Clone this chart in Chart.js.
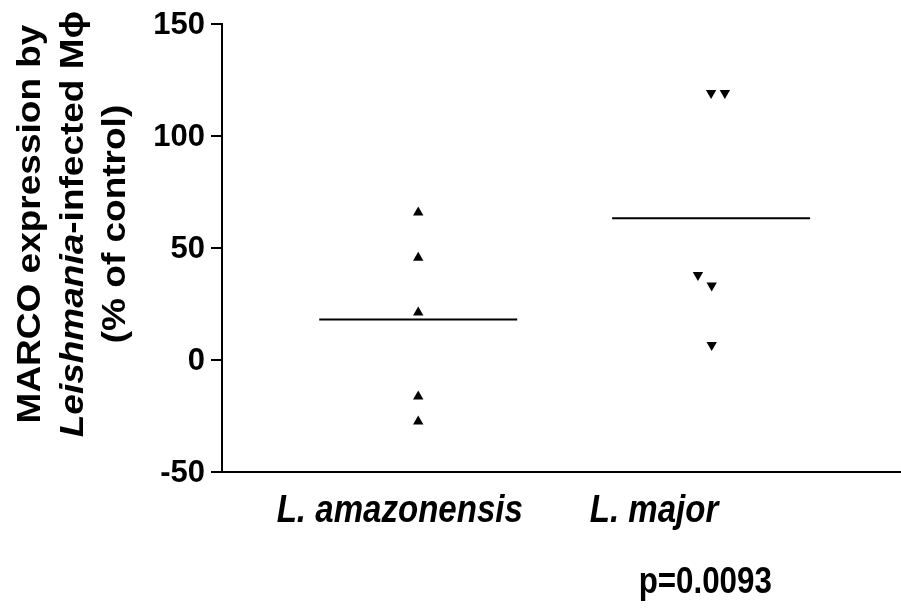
<!DOCTYPE html>
<html>
<head>
<meta charset="utf-8">
<script src="https://cdn.jsdelivr.net/npm/chart.js"></script>
<style>
  html, body { margin: 0; padding: 0; background: #fff; }
  #wrap { width: 901px; height: 608px; position: relative; }
</style>
</head>
<body>
<div id="wrap"><canvas id="chart"></canvas></div>
<script>
// Groups on the x axis (1 and 2), with the label positions under them
const groups = ['L. amazonensis', 'L. major'];
const groupLabelPos = [0.937, 1.805];

// L. amazonensis (upward triangles)
const amazX = [1, 1, 1, 1, 1];
const amazY = [65.8, 45.6, 21.2, -16.3, -27.5];

// L. major (downward triangles)
const majorX = [2, 2.047, 1.955, 2.002, 2.002];
const majorY = [119.2, 119.2, 37.9, 33.3, 6.7];

// group means (horizontal bars) and their half width
const groupMeans = [18.1, 63.3];
const meanHalfWidth = 0.338;

const yTicks = [150, 100, 50, 0, -50];
const pValue = 'p=0.0093';
const pValuePos = 1.98;

const FONT = '"Liberation Sans", Arial, Helvetica, sans-serif';

function meanLine(i) {
  const c = i + 1;
  return [{ x: c - meanHalfWidth, y: groupMeans[i] }, { x: c + meanHalfWidth, y: groupMeans[i] }];
}

// Text drawn by hand: fonts in the figure are slightly condensed
const textPlugin = {
  id: 'figText',
  afterDraw(chart) {
    const ctx = chart.ctx;
    const xs = chart.scales.x, ys = chart.scales.y;
    const area = chart.chartArea;
    ctx.save();
    ctx.fillStyle = '#000';

    // y tick labels
    ctx.font = 'bold 31px ' + FONT;
    ctx.textAlign = 'right';
    ctx.textBaseline = 'middle';
    yTicks.forEach((v) => {
      ctx.fillText(String(v), area.left - 17, ys.getPixelForValue(v) + 1);
    });

    // group labels
    ctx.font = 'italic bold 38px ' + FONT;
    ctx.textAlign = 'center';
    ctx.textBaseline = 'alphabetic';
    groups.forEach((g, i) => {
      ctx.save();
      ctx.translate(xs.getPixelForValue(groupLabelPos[i]), area.bottom + 50);
      ctx.scale(0.87, 1);
      ctx.fillText(g, 0, 0);
      ctx.restore();
    });

    // p value
    ctx.save();
    ctx.font = 'bold 36px ' + FONT;
    ctx.translate(xs.getPixelForValue(pValuePos), area.bottom + 121);
    ctx.scale(0.87, 1);
    ctx.fillText(pValue, 0, 0);
    ctx.restore();

    // y title, three rotated lines
    const cy = 224;
    const fs = 37;
    const drawRot = (bx, parts) => {
      ctx.save();
      ctx.translate(bx, cy);
      ctx.rotate(-Math.PI / 2);
      ctx.scale(1, 0.9);
      ctx.textAlign = 'left';
      let total = 0;
      parts.forEach((p) => { ctx.font = p[1] + ' ' + fs + 'px ' + FONT; total += ctx.measureText(p[0]).width; });
      let x = -total / 2;
      parts.forEach((p) => {
        ctx.font = p[1] + ' ' + fs + 'px ' + FONT;
        ctx.fillText(p[0], x, 0);
        x += ctx.measureText(p[0]).width;
      });
      ctx.restore();
    };
    drawRot(40, [['MARCO expression by', 'bold']]);
    drawRot(83, [['Leishmania', 'italic bold'], ['-infected M\u03D5', 'bold']]);
    drawRot(125, [['(% of control)', 'bold']]);

    ctx.restore();
  }
};

new Chart(document.getElementById('chart'), {
  type: 'scatter',
  data: {
    datasets: [
      {
        label: groups[0],
        data: amazX.map((x, i) => ({ x, y: amazY[i] })),
        pointStyle: 'triangle',
        pointRadius: 6,
        backgroundColor: '#000',
        borderColor: '#000',
        borderWidth: 0
      },
      {
        label: groups[1],
        data: majorX.map((x, i) => ({ x, y: majorY[i] })),
        pointStyle: 'triangle',
        rotation: 180,
        pointRadius: 6,
        backgroundColor: '#000',
        borderColor: '#000',
        borderWidth: 0
      },
      {
        type: 'line',
        data: meanLine(0),
        borderColor: '#000',
        borderWidth: 2,
        pointRadius: 0,
        fill: false
      },
      {
        type: 'line',
        data: meanLine(1),
        borderColor: '#000',
        borderWidth: 2,
        pointRadius: 0,
        fill: false
      }
    ]
  },
  options: {
    responsive: true,
    maintainAspectRatio: false,
    animation: false,
    events: [],
    layout: { autoPadding: false, padding: { left: 211, top: 24, right: 1, bottom: 136 } },
    plugins: { legend: { display: false }, tooltip: { enabled: false } },
    scales: {
      x: {
        type: 'linear',
        min: 0.33,
        max: 2.645,
        ticks: { display: false },
        grid: { display: false, drawTicks: false },
        border: { display: true, color: '#000', width: 2 }
      },
      y: {
        min: -50,
        max: 150,
        afterBuildTicks: (s) => { s.ticks = yTicks.map((v) => ({ value: v })); },
        ticks: { display: false },
        grid: { drawOnChartArea: false, drawTicks: true, tickLength: 11, color: '#000', lineWidth: 2 },
        border: { display: true, color: '#000', width: 2 }
      }
    }
  },
  plugins: [textPlugin]
});
</script>
</body>
</html>
